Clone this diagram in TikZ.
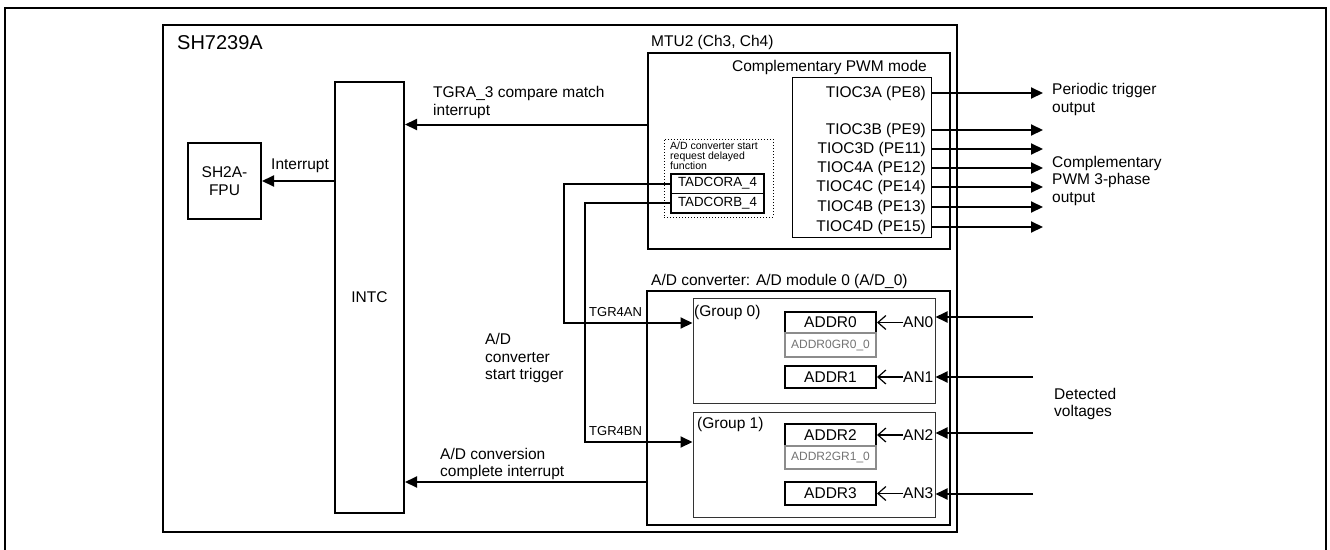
\documentclass[tikz,border=0pt]{standalone}
\usepackage{fontspec}
\setmainfont{Liberation Sans}
\usetikzlibrary{arrows.meta}
\newcommand\mainsz{\fontsize{15.5}{17.5}\selectfont}
\newcommand\chipsz{\fontsize{20}{24}\selectfont}
\newcommand\pinsz{\fontsize{13}{15}\selectfont}
\newcommand\tadsz{\fontsize{13.3}{15}\selectfont}
\newcommand\regsz{\fontsize{12}{14}\selectfont}
\newcommand\notesz{\fontsize{10.5}{10}\selectfont}
\tikzset{
  blk/.style={draw, line width=2pt, inner sep=0pt},
  thinblk/.style={draw, line width=1pt, inner sep=0pt},
  reg/.style={draw, line width=2pt, inner sep=0pt, minimum width=91pt},
  greyreg/.style={draw=black!45, line width=1.5pt, inner sep=0pt, minimum width=91pt, text=black!55, font=\regsz},
  lbl/.style={inner sep=0pt, align=left},
  arr/.style={line width=2pt, -{Triangle[length=12pt,width=11pt]}},
  barb/.style={line width=1.2pt, -{Straight Barb[length=8pt,width=14pt]}},
}
\begin{document}
\begin{tikzpicture}[x=1pt,y=-1pt,font=\mainsz]
\useasboundingbox (0,0) rectangle (1330,549);
\draw[line width=2pt] (5,560) -- (5,8) -- (1326,8) -- (1326,560);

% chip and its blocks
\node[blk, line width=1.5pt, minimum width=794pt, minimum height=507pt] (chip) at (560,278.5) {};
\node[lbl, anchor=west, font=\chipsz] (chiplbl) at (177,43) {SH7239A};
\node[blk, minimum width=73pt, minimum height=76pt, align=center] (cpu) at (224.5,181) {SH2A-\\FPU};
\node[blk, minimum width=69pt, minimum height=431pt] (intc) at (369.5,297.5) {INTC};

% MTU2
\node[blk, minimum width=302pt, minimum height=196.5pt] (mtu) at (799,150.75) {};
\node[lbl, anchor=west] (mtulbl) at (651,42) {MTU2 (Ch3, Ch4)};
\node[lbl, anchor=east] (pwmlbl) at (927,67) {Complementary PWM mode};
\node[thinblk, minimum width=139pt, minimum height=160pt] (tioc) at (861.5,157) {};
\node[draw, dotted, line width=1pt, minimum width=109pt, minimum height=78pt] (dly) at (718.5,178) {};
\node[lbl, anchor=west, font=\notesz] (dlylbl) at (670,156) {A/D converter start\\request delayed\\function};
\node[thinblk, line width=1.5pt, minimum width=93pt, minimum height=19.5pt, font=\tadsz] (tadcora) at (717.5,183.5) {TADCORA\_4};
\node[thinblk, line width=1.5pt, minimum width=93pt, minimum height=19.5pt, font=\tadsz] (tadcorb) at (717.5,203) {TADCORB\_4};

\foreach \nm/\txt/\yy in {t3a/TIOC3A (PE8)/93, t3b/TIOC3B (PE9)/130, t3d/TIOC3D (PE11)/149,
    t4a/TIOC4A (PE12)/168, t4c/TIOC4C (PE14)/187, t4b/TIOC4B (PE13)/207, t4d/TIOC4D (PE15)/227} {
  \node[lbl, anchor=east] (\nm) at (926,\yy) {\txt};
  \coordinate (out\nm) at (1043,\yy);
  \draw[arr] (tioc.east |- \nm) -- (out\nm);
}
\node[lbl, anchor=west] (perlbl) at (1052,99.5) {Periodic trigger\\output};
\node[lbl, anchor=west] (cpwmlbl) at (1052,180.5) {Complementary\\PWM 3-phase\\output};

% A/D converter
\node[blk, minimum width=303pt, minimum height=234pt] (adc) at (798.5,408) {};
\node[lbl, anchor=west] (adclbl) at (651,281) {A/D converter: A/D module 0 (A/D\_0)};
\node[thinblk, draw=black!80, minimum width=242pt, minimum height=105pt] (grp0) at (814,350.5) {};
\node[thinblk, draw=black!80, minimum width=242pt, minimum height=105pt] (grp1) at (814,464.5) {};
\node[lbl, anchor=west] (grp0lbl) at (694,312) {(Group 0)};
\node[lbl, anchor=west] (grp1lbl) at (697,424) {(Group 1)};
\node[reg, minimum height=21pt] (addr0) at (830.5,322.5) {ADDR0};
\node[greyreg, minimum height=24pt] (addr0g) at (830.5,345) {ADDR0GR0\_0};
\node[reg, minimum height=22pt] (addr1) at (830.5,377) {ADDR1};
\node[reg, minimum height=22pt] (addr2) at (830.5,435) {ADDR2};
\node[greyreg, minimum height=23pt] (addr2g) at (830.5,457.5) {ADDR2GR1\_0};
\node[reg, minimum height=23pt] (addr3) at (830.5,493.5) {ADDR3};

\foreach \i/\yl/\yy in {0/322.5/317, 1/377/377, 2/435/433, 3/493.5/494} {
  \node[lbl, anchor=west] (an\i) at (903,\yl) {AN\i};
  \draw[barb] (an\i.west) -- (addr\i.east);
  \coordinate (vin\i) at (1033,\yy);
  \draw[arr] (vin\i) -- (vin\i -| grp0.east);
}
\node[lbl, anchor=west] (detlbl) at (1054,404) {Detected\\voltages};

% triggers and interrupts
\coordinate (trga) at (564,323);
\coordinate (trgb) at (585,442);
\draw[arr] (tadcora.west) -| (trga) -- (trga -| grp0.west);
\draw[arr] (tadcorb.west) -| (trgb) -- (trgb -| grp1.west);
\node[lbl, anchor=west, font=\pinsz] (tgraan) at (589,312) {TGR4AN};
\node[lbl, anchor=west, font=\pinsz] (tgrbn) at (589,431) {TGR4BN};
\node[lbl, anchor=west] (startlbl) at (485,358) {A/D\\converter\\start trigger};

\coordinate (tgra) at (648,124.5);
\draw[arr] (tgra) -- (tgra -| intc.east);
\node[lbl, anchor=west] (tgralbl) at (433,102.5) {TGRA\_3 compare match\\interrupt};

\coordinate (adend) at (647,482);
\draw[arr] (adend) -- (adend -| intc.east);
\node[lbl, anchor=west] (adendlbl) at (440,464) {A/D conversion\\complete interrupt};

\draw[arr] (intc.west |- cpu.east) -- (cpu.east);
\node[lbl, anchor=west] (irqlbl) at (271,166) {Interrupt};
\end{tikzpicture}
\end{document}
